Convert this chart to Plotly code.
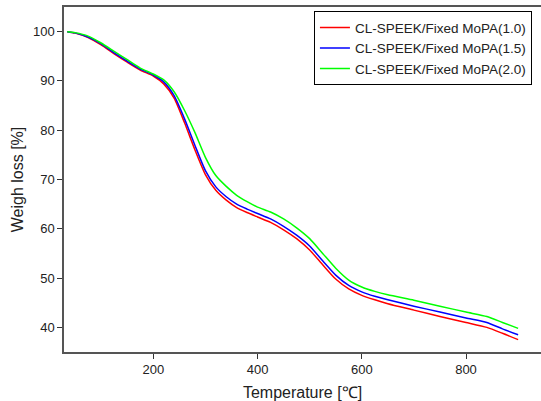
import plotly.graph_objects as go

temperature = [35, 50, 75, 100, 125, 150, 175, 200, 220, 240, 260, 280, 300, 320, 340, 360, 380,
               400, 425, 450, 475, 500, 525, 550, 575, 600, 625, 650, 700, 750, 800, 840, 870, 900]

mopa_10 = [100, 99.7, 98.8, 97.3, 95.5, 93.8, 92.2, 91.0, 89.4, 86.5, 81.5, 76.0, 71.0, 67.8, 65.8, 64.3, 63.3,
           62.4, 61.3, 59.8, 58.0, 55.7, 52.7, 49.8, 47.8, 46.5, 45.6, 44.8, 43.5, 42.2, 41.0, 40.0, 38.8, 37.5]

mopa_15 = [100, 99.75, 98.9, 97.5, 95.7, 94.0, 92.4, 91.2, 89.8, 87.0, 82.3, 76.9, 71.8, 68.5, 66.5, 65.0, 64.0,
           63.1, 62.0, 60.5, 58.7, 56.5, 53.5, 50.6, 48.5, 47.2, 46.3, 45.6, 44.3, 43.1, 41.9, 41.0, 39.7, 38.5]

mopa_20 = [100, 99.8, 99.1, 97.7, 96.0, 94.3, 92.6, 91.4, 90.2, 87.8, 84.0, 79.5, 74.5, 70.8, 68.6, 66.8, 65.5,
           64.4, 63.4, 62.0, 60.2, 58.0, 55.0, 52.0, 49.6, 48.2, 47.3, 46.6, 45.5, 44.3, 43.1, 42.2, 41.0, 39.8]

series_names = ["CL-SPEEK/Fixed MoPA(1.0)", "CL-SPEEK/Fixed MoPA(1.5)", "CL-SPEEK/Fixed MoPA(2.0)"]
series_values = [mopa_10, mopa_15, mopa_20]
series_colors = ["#ff0000", "#0000ff", "#00ff00"]

x_ticks = [200, 400, 600, 800]
y_ticks = [40, 50, 60, 70, 80, 90, 100]

FONT = "Arial, Liberation Sans, sans-serif"

fig = go.Figure()
for name, vals, col in zip(series_names, series_values, series_colors):
    fig.add_trace(go.Scatter(x=temperature, y=vals, mode="lines", name=name,
                             line=dict(color=col, width=1.5, shape="spline", smoothing=0.6)))

fig.update_layout(
    width=541, height=401,
    margin=dict(l=64, r=0, t=7, b=49),
    paper_bgcolor="white", plot_bgcolor="white",
    font=dict(family=FONT, size=13, color="#222222"),
    legend=dict(x=0.981, y=0.988, xanchor="right", yanchor="top",
                bgcolor="white", bordercolor="#000000", borderwidth=1,
                font=dict(family=FONT, size=13.5, color="#222222"),
                itemwidth=30, tracegroupgap=0, entrywidth=215, entrywidthmode="pixels"),
    showlegend=True,
)
fig.update_xaxes(range=[28.7, 943.9], tickvals=x_ticks, ticks="outside", ticklen=5, tickwidth=1,
                 tickcolor="#333333", showline=True, linecolor="#555555", linewidth=1.5, mirror=True,
                 showgrid=False, zeroline=False, automargin=False,
                 title=dict(text="Temperature [℃]", font=dict(family=FONT, size=16, color="#222222"), standoff=10),
                 tickfont=dict(family=FONT, size=13, color="#222222"))
fig.update_yaxes(range=[35, 105], tickvals=y_ticks, ticks="outside", ticklen=5, tickwidth=1,
                 tickcolor="#333333", showline=True, linecolor="#555555", linewidth=1.5, mirror=False,
                 showgrid=False, zeroline=False, automargin=False,
                 title=dict(text="Weigh loss [%]", font=dict(family=FONT, size=16, color="#222222"), standoff=5),
                 tickfont=dict(family=FONT, size=13, color="#222222"))

fig.write_html("out.html", config={"displayModeBar": False},
               post_script="document.body.style.margin='0';document.body.style.overflow='hidden';")
